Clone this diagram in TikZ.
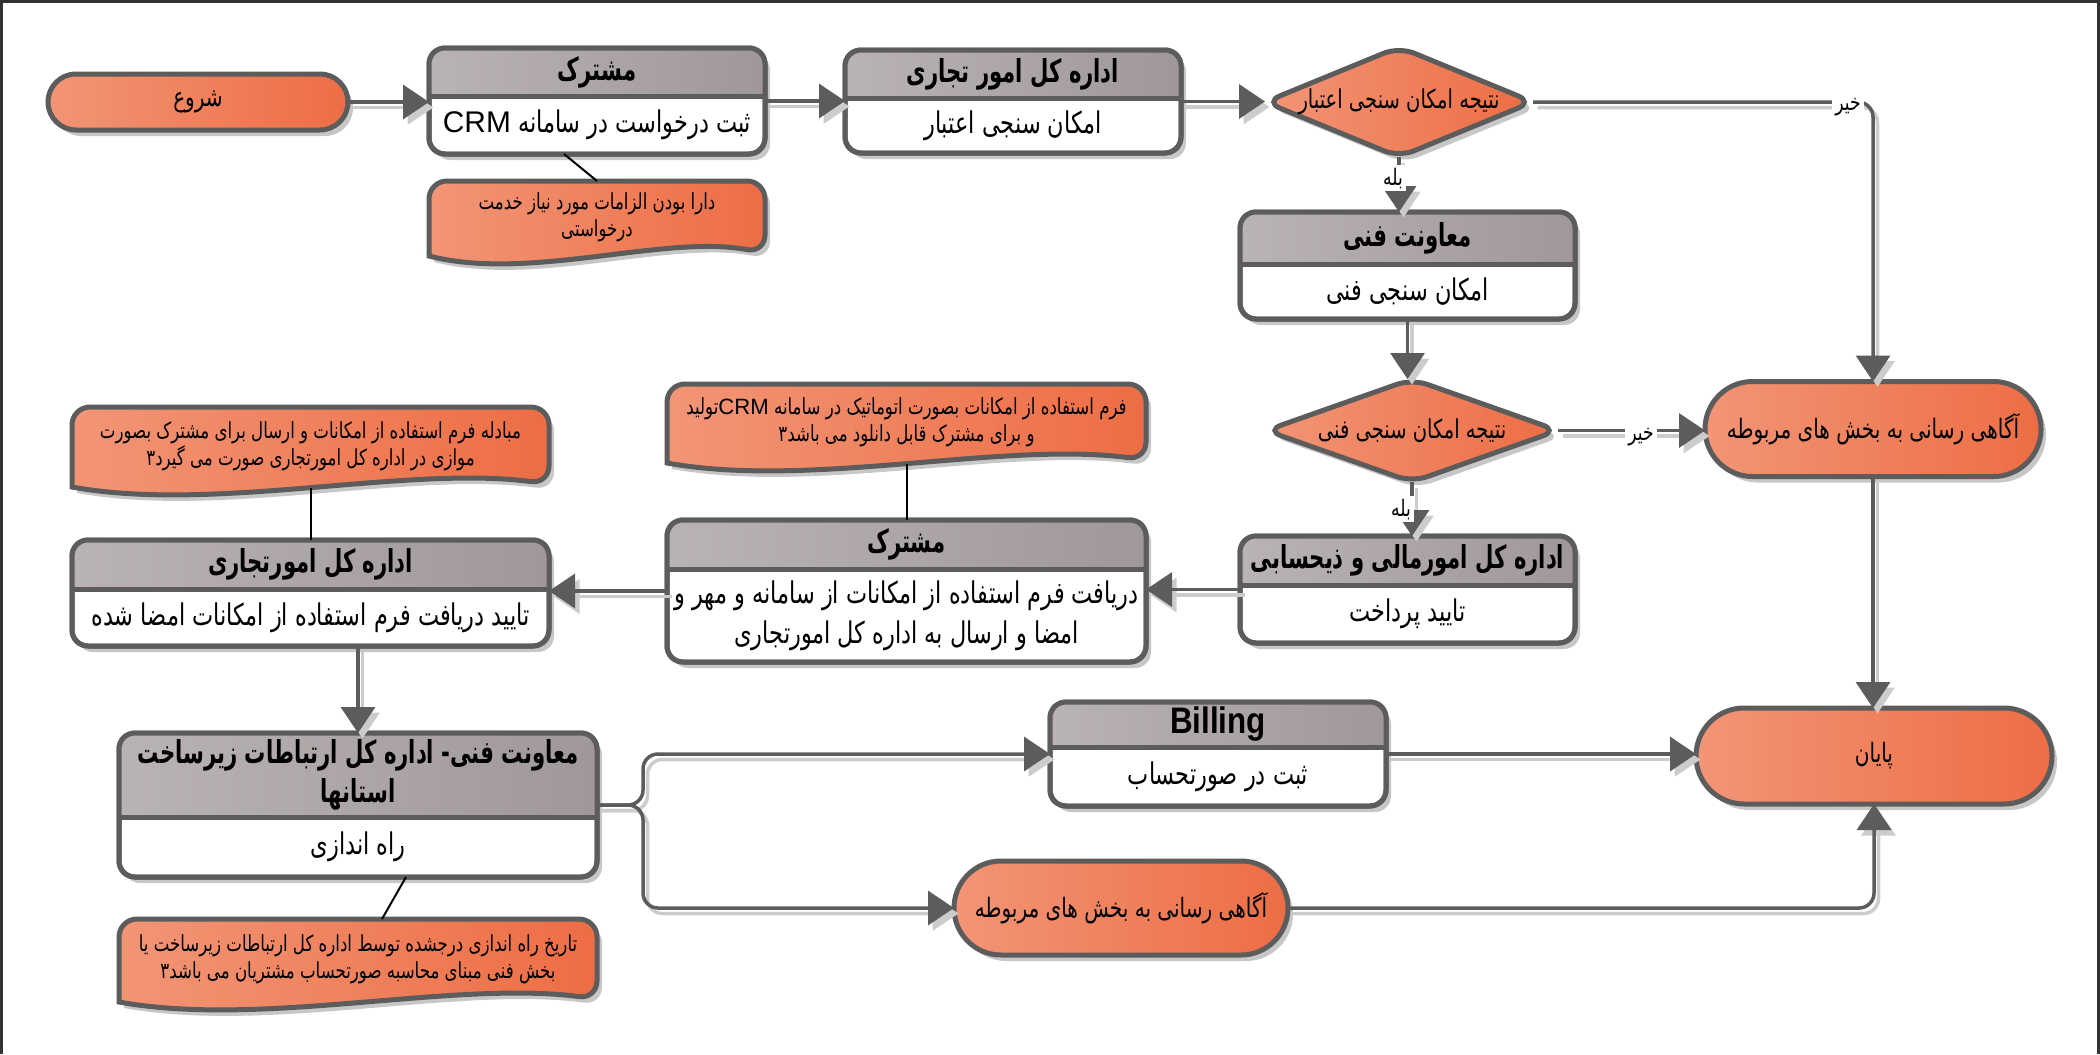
\documentclass[tikz,border=0pt]{standalone}
\usepackage{fontspec}
\setmainfont{Liberation Sans}
\newfontfamily\farsi[Script=Arabic,FakeStretch=0.75]{DejaVu Sans}
\newfontfamily\farsihead[Script=Arabic,FakeStretch=0.67]{DejaVu Sans}
\newfontfamily\narrowsans[FakeStretch=0.85]{Liberation Sans}
\TeXXeTstate=1
\usetikzlibrary{positioning,arrows.meta,shapes.misc,shapes.geometric,shadows}
\definecolor{orlight}{HTML}{F29576}
\definecolor{ordark}{HTML}{ED6D44}
\definecolor{grlight}{HTML}{BAB3B3}
\definecolor{grdark}{HTML}{A09898}
\definecolor{edge}{HTML}{5C5C5C}
\newcommand{\fatxt}[1]{{\farsi\beginR #1\endR}}
\newcommand{\fahead}[1]{{\farsihead\bfseries\beginR #1\endR}}
% task box: name, x1, y1, x2, y-split, y2, header, body
\newcommand{\taskbox}[8]{%
  \node[taskst, minimum width={(#4-#2)*1mm}, minimum height={(#6-#3)*1mm}] (#1) at ({(#2+#4)/2},{(#3+#6)/2}) {};
  \begin{scope}
    \clip[rounded corners=1.6mm] (#1.north west) rectangle (#1.south east);
    \shade[left color=grlight, right color=grdark] (#1.north west) rectangle (#4,#5);
  \end{scope}
  \draw[edge, line width=0.5mm] (#2,#5) -- (#4,#5);
  \draw[edge, line width=0.5mm, rounded corners=1.6mm] (#1.north west) rectangle (#1.south east);
  \node[headtext] (#1-h) at ({(#2+#4)/2},{(#3+#5)/2}) {#7};
  \node[bodytext] (#1-b) at ({(#2+#4)/2},{(#5+#6)/2}) {#8};
}
% note with wavy bottom: name, x1, y1, x2, y2, text
\newcommand{\docnote}[6]{%
  \fill[black!22, shift={(0.5mm,-0.6mm)}] (#2,{#5-0.8}) [rounded corners=1.8mm] -- (#2,#3) -- (#4,#3) -- (#4,{#5-1.1}) [sharp corners]
    .. controls ({#2+0.7*(#4-#2)},{#5-3.0}) and ({#2+0.3*(#4-#2)},{#5+1.8}) .. (#2,{#5-0.8}) -- cycle;
  \shade[draw=edge, line width=0.5mm, left color=orlight, right color=ordark] (#2,{#5-0.8}) [rounded corners=1.8mm] -- (#2,#3) -- (#4,#3) -- (#4,{#5-1.1}) [sharp corners]
    .. controls ({#2+0.7*(#4-#2)},{#5-3.0}) and ({#2+0.3*(#4-#2)},{#5+1.8}) .. (#2,{#5-0.8}) -- cycle;
  \coordinate (#1-top) at ({(#2+#4)/2},#3);
  \coordinate (#1-bot) at ({(#2+#4)/2},{#5-0.7});
  \node[notetext] (#1) at ({(#2+#4)/2},{(#3+#5)/2-0.5}) {#6};
}

\begin{document}
\begin{tikzpicture}[x=1mm, y=-1mm,
  shadowed/.style={drop shadow={shadow xshift=0.5mm, shadow yshift=-0.6mm, fill=black!22, opacity=1}},
  pill/.style={rounded rectangle, draw=edge, line width=0.5mm, left color=orlight, right color=ordark, inner sep=0pt, outer sep=0pt, shadowed, font=\fontsize{7.6}{9}\selectfont},
  decide/.style={diamond, draw=edge, line width=0.5mm, left color=orlight, right color=ordark, rounded corners=1.6mm, inner sep=0pt, outer sep=0pt, shadowed},
  taskst/.style={rectangle, draw=edge, line width=0.5mm, fill=white, rounded corners=1.6mm, inner sep=0pt, outer sep=0pt, shadowed},
  headtext/.style={font=\bfseries\fontsize{9}{11}\selectfont, align=center, inner sep=0pt},
  bodytext/.style={font=\fontsize{8.5}{11.4}\selectfont, align=center, inner sep=0pt},
  notetext/.style={font=\fontsize{6.3}{7.8}\selectfont, align=center, inner sep=0pt},
  dectext/.style={font=\fontsize{7.4}{9}\selectfont, inner sep=0pt},
  lbl/.style={font=\fontsize{6.5}{7}\selectfont, fill=white, inner sep=0.3mm},
  tie/.style={draw=black, line width=0.2mm},
  flow/.style={draw=edge, line width=0.35mm, -{Triangle[length=2.6mm,width=3.4mm]},
    preaction={draw=black!20, line width=0.35mm, -{Triangle[length=2.6mm,width=3.4mm]}, transform canvas={shift={(0.45mm,-0.55mm)}}}}]
\useasboundingbox (0,0) rectangle (210,105.4);
\draw[black!80, line width=0.35mm] (0.15,105.4) -- (0.15,0.15) -- (209.85,0.15) -- (209.85,105.4);

% top row
\node[pill, minimum width=30mm, minimum height=5.6mm] (start) at (19.8,10.2) {\fatxt{شروع}};
\taskbox{sub1}{42.9}{4.8}{76.5}{9.6}{15.4}{\fahead{مشترک}}{\fatxt{ثبت درخواست در سامانه \beginL{\rmfamily CRM}\endL}}
\taskbox{com1}{84.5}{5.0}{118.1}{9.8}{15.3}{\fahead{اداره کل امور تجاری}}{\fatxt{امکان سنجی اعتبار}}
\node[decide, minimum width=26.8mm, minimum height=11mm] (res1) at (139.9,10.2) {};
\node[dectext] (res1t) at (res1) {\fatxt{نتیجه امکان سنجی اعتبار}};
\docnote{nt1}{42.9}{18.1}{76.5}{26.4}{\fatxt{دارا بودن الزامات مورد نیاز خدمت}\\\fatxt{درخواستی}}
\draw[tie] ([xshift=-3.3mm]sub1.south) -- (nt1-top);

% right column
\taskbox{tech1}{124.0}{21.2}{157.5}{26.4}{31.9}{\fahead{معاونت فنی}}{\fatxt{امکان سنجی فنی}}
\node[decide, minimum width=29.2mm, minimum height=10.3mm] (res2) at (141.2,43.05) {};
\node[dectext] (res2t) at (res2) {\fatxt{نتیجه امکان سنجی فنی}};
\node[pill, minimum width=33.6mm, minimum height=9.5mm] (info1) at (187.3,42.9) {\fatxt{آگاهی رسانی به بخش های مربوطه}};
\taskbox{fin}{124.0}{53.6}{157.5}{58.5}{64.3}{\fahead{اداره کل امورمالی و ذیحسابی}}{\fatxt{تایید پرداخت}}

% middle row
\docnote{nt2}{66.7}{38.4}{114.6}{47.1}{\fatxt{فرم استفاده از امکانات بصورت اتوماتیک در سامانه \beginL{\rmfamily CRM}\endL{}تولید}\\\fatxt{و برای مشترک قابل دانلود می باشد۳}}
\taskbox{sub2}{66.7}{52.0}{114.6}{56.9}{66.2}{\fahead{مشترک}}{\fatxt{دریافت فرم استفاده از امکانات از سامانه و مهر و}\\\fatxt{امضا و ارسال به اداره کل امورتجاری}}
\draw[tie] (nt2-bot) -- (sub2.north);
\docnote{nt3}{7.2}{40.7}{54.9}{49.5}{\fatxt{مبادله فرم استفاده از امکانات و ارسال برای مشترک بصورت}\\\fatxt{موازی در اداره کل امورتجاری صورت می گیرد۳}}
\taskbox{com2}{7.2}{54.0}{54.9}{58.9}{64.6}{\fahead{اداره کل امورتجاری}}{\fatxt{تایید دریافت فرم استفاده از امکانات امضا شده}}
\draw[tie] (nt3-bot) -- (com2.north);

% bottom row
\taskbox{tech2}{11.9}{73.3}{59.7}{81.7}{87.7}{\fahead{معاونت فنی- اداره کل ارتباطات زیرساخت}\\\fahead{استانها}}{\fatxt{راه اندازی}}
\docnote{nt4}{11.9}{91.9}{59.7}{101.0}{\fatxt{تاریخ راه اندازی درجشده توسط اداره کل ارتباطات زیرساخت یا}\\\fatxt{بخش فنی مبنای محاسبه صورتحساب مشتریان می باشد۳}}
\draw[tie] ([xshift=4.8mm]tech2.south) -- ([xshift=2.4mm]nt4-top);
\taskbox{bill}{105.0}{70.2}{138.6}{74.7}{80.6}{{\narrowsans\fontsize{10.5}{12}\selectfont Billing}}{\fatxt{ثبت در صورتحساب}}
\node[pill, minimum width=33.4mm, minimum height=9.4mm] (info2) at (112.1,90.8) {\fatxt{آگاهی رسانی به بخش های مربوطه}};
\node[pill, minimum width=35.6mm, minimum height=9.6mm] (stop) at (187.4,75.6) {\fatxt{پایان}};

% connectors
\draw[flow] (start.east) -- (start.east -| sub1.west);
\draw[flow] (sub1.east) -- (sub1.east -| com1.west);
\draw[flow] (com1.east) -- (com1.east -| res1.west);
\draw[flow, rounded corners=1.5mm] (res1.east) -- (res1.east -| info1.north) -- (info1.north);
\draw[flow] (res1.south) -- (res1.south |- tech1.north);
\draw[flow] (tech1.south) -- (tech1.south |- res2.north);
\draw[flow] (res2.east) -- (res2.east -| info1.west);
\draw[flow] (res2.south) -- (res2.south |- fin.north);
\draw[flow] (info1.south) -- (info1.south |- stop.north);
\draw[flow] (fin.west) -- (fin.west -| sub2.east);
\draw[flow] (sub2.west) -- (sub2.west -| com2.east);
\draw[flow] (com2.south -| tech2.north) -- (tech2.north);
\coordinate (fork) at ([xshift=4.6mm]tech2.east);
\draw[flow, rounded corners=1.5mm] (tech2.east) -- (fork) |- (bill.west);
\draw[flow, rounded corners=1.5mm] (tech2.east) -- (fork) |- (info2.west);
\draw[flow] (bill.east) -- (bill.east -| stop.west);
\draw[flow, rounded corners=1.5mm] (info2.east) -| (stop.south);

% labels
\node[lbl] (no1) at (184.8,10.7) {\fatxt{خیر}};
\node[lbl] (yes1) at (139.3,17.8) {\fatxt{بله}};
\node[lbl] (no2) at (164.1,43.7) {\fatxt{خیر}};
\node[lbl] (yes2) at (140.1,50.9) {\fatxt{بله}};
\end{tikzpicture}
\end{document}
